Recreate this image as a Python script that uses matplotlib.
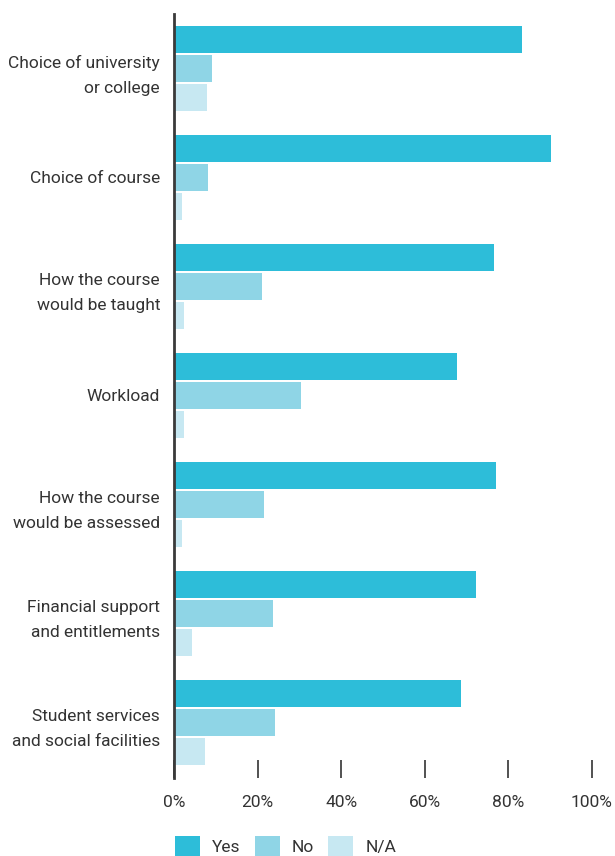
import numpy as np
import matplotlib.pyplot as plt
from matplotlib.patches import Patch

categories = ['Choice of university\nor college', 'Choice of course',
              'How the course\nwould be taught', 'Workload',
              'How the course\nwould be assessed', 'Financial support\nand entitlements',
              'Student services\nand social facilities']
yes = [83.3, 90.3, 76.6, 67.8, 77.1, 72.3, 68.7]
no = [9.1, 8.1, 21.1, 30.4, 21.5, 23.7, 24.2]
na = [7.9, 1.9, 2.4, 2.4, 1.9, 4.3, 7.4]
series_names = ['Yes', 'No', 'N/A']
colors = ['#2dbdd9', '#8fd5e6', '#c7e8f2']
ticks = [0, 20, 40, 60, 80, 100]

plt.rcParams['font.family'] = ['Roboto', 'DejaVu Sans']
text_col = '#333333'
fs = 12.5

fig = plt.figure(figsize=(6.15, 8.56), dpi=100)
ax = fig.add_axes([174/615, 1 - 778/856, (592 - 174)/615, (778 - 14)/856])

# three bars per category: yes / no / n/a stacked downward
y = np.arange(len(categories))
h = 27/109
step = 29/109
for k, (vals, c) in enumerate(zip([yes, no, na], colors)):
    ax.barh(y + (k - 1)*step, vals, height=h, color=c, linewidth=0)

ax.set_xlim(0, 100)
ax.set_ylim(len(categories) - 0.49, -0.5)
ax.set_xticks(ticks)
ax.set_xticklabels([f'{t}%' for t in ticks], fontsize=fs, color=text_col)
ax.set_yticks(y)
ax.set_yticklabels(categories, fontsize=fs, color=text_col, linespacing=1.85)
ax.tick_params(axis='y', length=0, pad=10)
ax.tick_params(axis='x', direction='in', length=13, width=1.2, color=text_col, pad=12)

for s in ['top', 'right', 'bottom']:
    ax.spines[s].set_visible(False)
ax.spines['left'].set_color('#3a3a3a')
ax.spines['left'].set_linewidth(2)

handles = [Patch(facecolor=c, edgecolor='none', label=n) for c, n in zip(colors, series_names)]
leg = fig.legend(handles=handles, loc='upper left', bbox_to_anchor=(168/615, 1 - 829/856),
                 ncol=3, frameon=False, fontsize=fs, handlelength=1.45, handleheight=1.4,
                 handletextpad=0.7, columnspacing=0.8, borderaxespad=0)
for t in leg.get_texts():
    t.set_color(text_col)

fig.savefig('out.png', dpi=100)
